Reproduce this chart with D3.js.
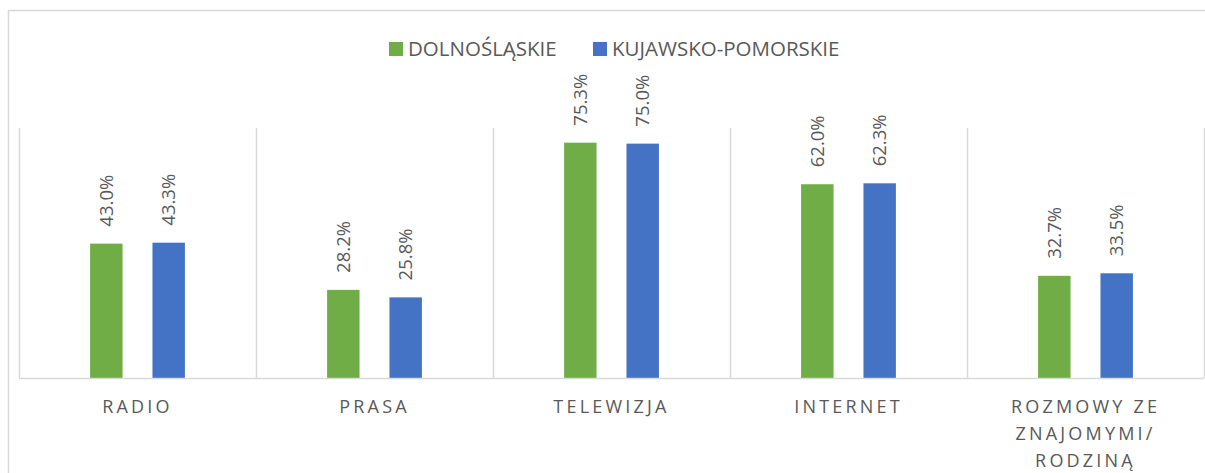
<!DOCTYPE html>
<html>
<head>
<meta charset="utf-8">
<script src="https://cdn.jsdelivr.net/npm/d3@7"></script>
<style>
  body { margin: 0; background: #fff; }
  svg { display: block; font-family: "Open Sans", sans-serif; }
</style>
</head>
<body>
<svg id="chart" width="1205" height="473"></svg>
<script>
// data
var categories = ['RADIO', 'PRASA', 'TELEWIZJA', 'INTERNET', 'ROZMOWY'];
var tickLabels = [['RADIO'], ['PRASA'], ['TELEWIZJA'], ['INTERNET'], ['ROZMOWY ZE', 'ZNAJOMYMI/', 'RODZINĄ']];
var seriesNames = ['DOLNOŚLĄSKIE', 'KUJAWSKO-POMORSKIE'];
var dolnoslaskie = [43.0, 28.2, 75.3, 62.0, 32.7];
var kujawsko = [43.3, 25.8, 75.0, 62.3, 33.5];
var colors = ['#70AD47', '#4472C4'];

(function() {

var svg = d3.select('#chart');
var grey = '#595959', lineCol = '#D9D9D9';

// chart border (runs off right and bottom of the picture)
svg.append('rect')
    .attr('x', 8.5).attr('y', 10.5)
    .attr('width', 1220).attr('height', 490)
    .attr('fill', 'none')
    .attr('stroke', lineCol)
    .attr('stroke-width', 1.5);

var margin = {top: 128, left: 19, right: 1, bottom: 95},
    width = 1205 - margin.left - margin.right,
    height = 473 - margin.top - margin.bottom;

var x0 = d3.scaleBand().domain(categories).range([0, width]);
var x1 = d3.scaleBand().domain(seriesNames)
    .range([x0.bandwidth() * 0.3, x0.bandwidth() * 0.7])
    .paddingInner(0.48);
var y = d3.scaleLinear().domain([0, 80]).range([height, 0]);

var g = svg.append('g')
    .attr('transform', 'translate(' + margin.left + ',' + margin.top + ')');

// vertical gridlines between categories
var bounds = categories.map(function(c) { return x0(c); }).concat([width]);
g.selectAll('.vgrid')
    .data(bounds)
  .enter().append('line')
    .attr('class', 'vgrid')
    .attr('x1', function(d) { return Math.round(d) + 0.5; })
    .attr('x2', function(d) { return Math.round(d) + 0.5; })
    .attr('y1', 0).attr('y2', height)
    .attr('stroke', lineCol).attr('stroke-width', 1.5);

var rows = categories.map(function(c, i) {
    return {cat: c, vals: [dolnoslaskie[i], kujawsko[i]]};
});

var groups = g.selectAll('.grp')
    .data(rows)
  .enter().append('g')
    .attr('class', 'grp')
    .attr('transform', function(d) { return 'translate(' + x0(d.cat) + ',0)'; });

var bars = groups.selectAll('.bar')
    .data(function(d) {
        return d.vals.map(function(v, j) { return {s: seriesNames[j], v: v, j: j}; });
    })
  .enter();

bars.append('rect')
    .attr('class', 'bar')
    .attr('x', function(d) { return x1(d.s); })
    .attr('width', x1.bandwidth())
    .attr('y', function(d) { return y(d.v); })
    .attr('height', function(d) { return height - y(d.v); })
    .attr('fill', function(d) { return colors[d.j]; });

// rotated value labels
bars.append('text')
    .attr('transform', function(d) {
        return 'translate(' + (x1(d.s) + x1.bandwidth() / 2) + ',' + (y(d.v) - 17) + ') rotate(-90)';
    })
    .attr('dy', '0.36em')
    .attr('font-size', 18.5)
    .attr('fill', grey)
    .text(function(d) { return d.v.toFixed(1) + '%'; });

// x axis
var xAxis = g.append('g')
    .attr('transform', 'translate(0,' + height + ')')
    .call(d3.axisBottom(x0).tickSize(0).tickFormat(''));
xAxis.select('.domain')
    .attr('stroke', lineCol).attr('stroke-width', 1.5)
    .attr('d', 'M0,0.5H' + width);

xAxis.selectAll('.tick').each(function(d, i) {
    var t = d3.select(this).append('text')
        .attr('fill', grey)
        .attr('font-size', 18)
        .attr('letter-spacing', 3.2)
        .attr('text-anchor', 'middle')
        .attr('font-family', '"Open Sans", sans-serif');
    tickLabels[i].forEach(function(line, k) {
        t.append('tspan')
            .attr('x', 0)
            .attr('y', 35 + k * 26.8)
            .text(line);
    });
});

// legend
var legendX = [389, 593];
var legend = svg.selectAll('.legend')
    .data(seriesNames)
  .enter().append('g')
    .attr('class', 'legend')
    .attr('transform', function(d, i) { return 'translate(' + legendX[i] + ',42)'; });

legend.append('rect')
    .attr('width', 14).attr('height', 14)
    .attr('fill', function(d, i) { return colors[i]; });

legend.append('text')
    .attr('x', 19).attr('y', 7)
    .attr('dy', '0.36em')
    .attr('font-size', 20.5)
    .attr('fill', grey)
    .text(function(d) { return d; });

})();
</script>
</body>
</html>
